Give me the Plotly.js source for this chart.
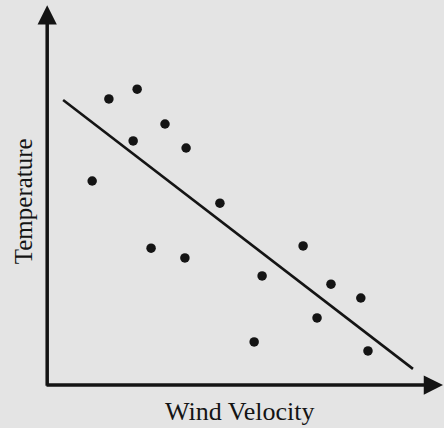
<!DOCTYPE html>
<html>
<head>
<meta charset="utf-8">
<script src="https://cdn.plot.ly/plotly-3.0.1.min.js"></script>
<style>html,body{margin:0;padding:0;background:#e4e4e4;}</style>
</head>
<body>
<div id="chart" style="width:444px;height:428px;"></div>
<script>
// Scatter data (arbitrary units, 0-100 scale)
var windVelocity = [11.6, 15.8, 22.9, 21.9, 29.9, 35.2, 26.4, 34.9, 43.7, 64.6, 54.3, 71.6, 79.1, 68.1, 52.3, 80.9];
var temperature  = [54.4, 76.3, 78.9, 65.1, 69.6, 63.2, 36.5, 33.9, 48.5, 37.1, 29.1, 26.9, 23.2, 17.9, 11.5, 9.1];
// Trend line end points
var trendX = [4.3, 92.2];
var trendY = [76.0, 4.3];

var xTitle = 'Wind Velocity';
var yTitle = 'Temperature';

var bg = '#e4e4e4';
var ink = '#141414';
var serif = '"Liberation Serif", "Times New Roman", serif';

var traces = [
  {x: trendX, y: trendY, mode: 'lines', type: 'scatter',
   line: {color: ink, width: 2.6}, hoverinfo: 'skip', showlegend: false},
  {x: windVelocity, y: temperature, mode: 'markers', type: 'scatter',
   marker: {color: ink, size: 9.5}, showlegend: false}
];

var layout = {
  width: 444, height: 428,
  margin: {l: 46, r: 0, t: 10, b: 43, pad: 0},
  paper_bgcolor: bg, plot_bgcolor: bg,
  showlegend: false,
  xaxis: {range: [0, 100], showgrid: false, zeroline: false, showline: false,
          showticklabels: false, ticks: '', fixedrange: true},
  yaxis: {range: [0, 100], showgrid: false, zeroline: false, showline: false,
          showticklabels: false, ticks: '', fixedrange: true},
  annotations: [
    // y axis with arrow
    {xref: 'paper', yref: 'paper', x: 0.003, y: 1.013, ax: 0, ay: 382, axref: 'pixel', ayref: 'pixel',
     text: '', showarrow: true, arrowhead: 2, arrowsize: 1.1, arrowwidth: 3.5, arrowcolor: ink},
    // x axis with arrow
    {xref: 'paper', yref: 'paper', x: 1, y: 0, ax: -399, ay: 0, axref: 'pixel', ayref: 'pixel',
     text: '', showarrow: true, arrowhead: 2, arrowsize: 1.1, arrowwidth: 3.5, arrowcolor: ink},
    {xref: 'paper', yref: 'paper', x: 0.485, y: 0, yshift: -26, xanchor: 'center', yanchor: 'middle',
     text: xTitle, showarrow: false, font: {family: serif, size: 26, color: ink}},
    {xref: 'paper', yref: 'paper', x: 0, y: 0.49, xshift: -23, xanchor: 'center', yanchor: 'middle',
     text: yTitle, textangle: -90, showarrow: false, font: {family: serif, size: 25, color: ink}}
  ]
};

Plotly.newPlot('chart', traces, layout, {displayModeBar: false, staticPlot: true});
</script>
</body>
</html>
